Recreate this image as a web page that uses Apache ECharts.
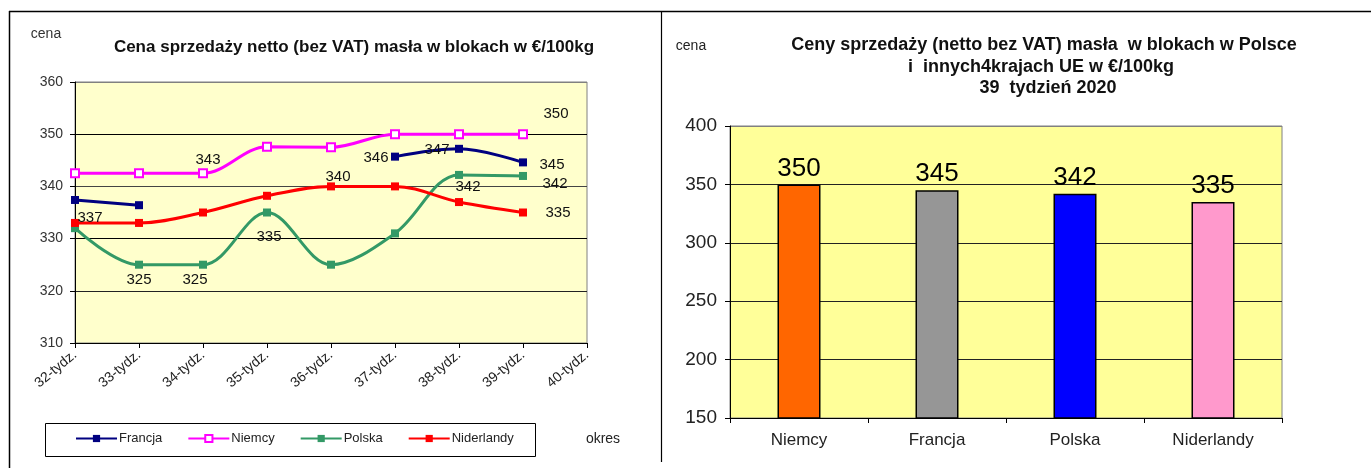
<!DOCTYPE html>
<html>
<head>
<meta charset="utf-8">
<script src="https://cdn.jsdelivr.net/npm/echarts@6/dist/echarts.min.js"></script>
<style>
html,body{margin:0;padding:0;background:#fff;}
#c{width:1371px;height:468px;}
</style>
</head>
<body>
<div id="c"></div>
<script>
// ---- data ----
const weeks = ['32-tydz.', '33-tydz.', '34-tydz.', '35-tydz.', '36-tydz.', '37-tydz.', '38-tydz.', '39-tydz.', '40-tydz.'];
const francja = [337.4, 336.4, null, null, null, 345.7, 347.2, 344.6, null];
const niemcy = [342.5, 342.5, 342.5, 347.6, 347.5, 350, 350, 350, null];
const polska = [332, 325, 325, 335, 325, 331, 342.2, 342, null];
const niderlandy = [333, 333, 335, 338.2, 340, 340, 337, 335, null];
const yTicksLeft = [310, 320, 330, 340, 350, 360];

const countries = ['Niemcy', 'Francja', 'Polska', 'Niderlandy'];
const prices = [350, 345, 342, 335];
const yTicksRight = [150, 200, 250, 300, 350, 400];

// ---- label placement (style, not data) ----
const labelOffsets = {
  Francja: {0: [15, 18], 5: [-19, 1], 6: [-22, 1], 7: [29, 2]},
  Niemcy: {2: [5, -13], 7: [33, -20]},
  Polska: {1: [0, 15], 2: [-8, 15], 3: [2, 24], 6: [9, 12], 7: [32, 8]},
  Niderlandy: {4: [7, -10], 7: [35, 0]}
};

const FONT = "'Liberation Sans', Arial, sans-serif";
const chart = echarts.init(document.getElementById('c'), null, {renderer: 'canvas'});

function lineSeries(name, values, color, symbol) {
  const offs = labelOffsets[name] || {};
  return {
    name: name,
    type: 'line',
    xAxisIndex: 0, yAxisIndex: 0,
    smooth: 0.35,
    connectNulls: false,
    symbol: symbol,
    symbolSize: 8,
    showAllSymbol: true,
    lineStyle: {color: color, width: 3},
    itemStyle: {color: color, borderColor: color, borderWidth: symbol === 'emptyRect' ? 1.5 : 0},
    emphasis: {disabled: true},
    z: 3,
    data: values.map((v, i) => {
      const item = {value: v};
      if (offs[i] && v != null) {
        item.label = {
          show: true, position: 'inside', offset: offs[i],
          formatter: p => String(Math.round(p.value)),
          fontSize: 15, color: '#111', fontFamily: FONT
        };
      }
      return item;
    })
  };
}

const option = {
  animation: false,
  backgroundColor: '#ffffff',
  textStyle: {fontFamily: FONT},
  grid: [
    {left: 75, top: 82, width: 512, height: 261, show: true, backgroundColor: '#FFFFCC', borderColor: '#808080', borderWidth: 1},
    {left: 730, top: 126, width: 552, height: 292, show: true, backgroundColor: '#FFFF99', borderColor: '#808080', borderWidth: 1}
  ],
  legend: {
    left: 75, top: 432, itemWidth: 41, itemHeight: 9, itemGap: 25, padding: 0,
    textStyle: {fontSize: 13, color: '#222', fontFamily: FONT, padding: [0, 0, 0, -3]},
    data: ['Francja', 'Niemcy', 'Polska', 'Niderlandy']
  },
  xAxis: [
    {
      type: 'category', gridIndex: 0, data: weeks, boundaryGap: false,
      axisLine: {show: true, lineStyle: {color: '#000', width: 1}},
      axisTick: {show: true, length: 5, lineStyle: {color: '#000'}},
      axisLabel: {rotate: 40, fontSize: 14, color: '#222', margin: 10, fontFamily: FONT},
      splitLine: {show: false}
    },
    {
      type: 'category', gridIndex: 1, data: countries,
      axisLine: {show: true, lineStyle: {color: '#000', width: 1}},
      axisTick: {show: true, length: 5, lineStyle: {color: '#000'}},
      axisLabel: {fontSize: 17, color: '#222', margin: 14, fontFamily: FONT},
      splitLine: {show: false}
    }
  ],
  yAxis: [
    {
      type: 'value', gridIndex: 0, min: yTicksLeft[0], max: yTicksLeft[yTicksLeft.length - 1], interval: 10,
      axisLine: {show: true, lineStyle: {color: '#000'}},
      axisTick: {show: true, length: 5, lineStyle: {color: '#000'}},
      axisLabel: {fontSize: 14, color: '#333', margin: 12, fontFamily: FONT},
      splitLine: {show: true, lineStyle: {color: ['#000', '#222', '#000', '#444', '#000', '#808080'], width: 1}}
    },
    {
      type: 'value', gridIndex: 1, min: yTicksRight[0], max: yTicksRight[yTicksRight.length - 1], interval: 50,
      axisLine: {show: true, lineStyle: {color: '#000'}},
      axisTick: {show: true, length: 5, lineStyle: {color: '#000'}},
      axisLabel: {fontSize: 19, color: '#222', margin: 13, fontFamily: FONT},
      splitLine: {show: true, lineStyle: {color: ['#000', '#222', '#222', '#222', '#222', '#808080'], width: 1}}
    }
  ],
  series: [
    lineSeries('Francja', francja, '#000080', 'rect'),
    lineSeries('Niemcy', niemcy, '#FF00FF', 'emptyRect'),
    lineSeries('Polska', polska, '#339966', 'rect'),
    lineSeries('Niderlandy', niderlandy, '#FF0000', 'rect'),
    {
      name: 'ceny', type: 'bar', xAxisIndex: 1, yAxisIndex: 1,
      barWidth: 43,
      emphasis: {disabled: true},
      label: {show: true, position: 'top', distance: 3, fontSize: 26, color: '#000', fontFamily: FONT},
      data: prices.map((v, i) => ({
        value: v,
        itemStyle: {color: ['#FF6600', '#969696', '#0000FF', '#FF99CC'][i], borderColor: '#000', borderWidth: 1.5}
      }))
    }
  ],
  graphic: [
    // panel frame lines
    {type: 'line', shape: {x1: 9, y1: 11.5, x2: 1371, y2: 11.5}, style: {stroke: '#000', lineWidth: 1.5}},
    {type: 'line', shape: {x1: 9.5, y1: 11, x2: 9.5, y2: 468}, style: {stroke: '#000', lineWidth: 1.5}},
    {type: 'line', shape: {x1: 661.5, y1: 11, x2: 661.5, y2: 462}, style: {stroke: '#000', lineWidth: 1.2}},
    // legend box (left chart)
    {type: 'rect', shape: {x: 45.5, y: 423.5, width: 490, height: 33}, style: {fill: '#fff', stroke: '#000', lineWidth: 1}, z: -1},
    // left texts
    {type: 'text', x: 46, y: 34, style: {text: 'cena', font: '14px ' + FONT, fill: '#333', align: 'center', verticalAlign: 'middle'}},
    {type: 'text', x: 354, y: 47, style: {text: 'Cena sprzedaży netto (bez VAT) masła w blokach w €/100kg', font: 'bold 17px ' + FONT, fill: '#111', align: 'center', verticalAlign: 'middle'}},
    {type: 'text', x: 603, y: 439, style: {text: 'okres', font: '14px ' + FONT, fill: '#222', align: 'center', verticalAlign: 'middle'}},
    // right texts
    {type: 'text', x: 691, y: 46, style: {text: 'cena', font: '14px ' + FONT, fill: '#222', align: 'center', verticalAlign: 'middle'}},
    {type: 'text', x: 1044, y: 45, style: {text: 'Ceny sprzedaży (netto bez VAT) masła  w blokach w Polsce', font: 'bold 18px ' + FONT, fill: '#111', align: 'center', verticalAlign: 'middle'}},
    {type: 'text', x: 1041, y: 67, style: {text: 'i  innych4krajach UE w €/100kg', font: 'bold 18px ' + FONT, fill: '#111', align: 'center', verticalAlign: 'middle'}},
    {type: 'text', x: 1048, y: 88, style: {text: '39  tydzień 2020', font: 'bold 18px ' + FONT, fill: '#111', align: 'center', verticalAlign: 'middle'}}
  ]
};
chart.setOption(option);
</script>
</body>
</html>
